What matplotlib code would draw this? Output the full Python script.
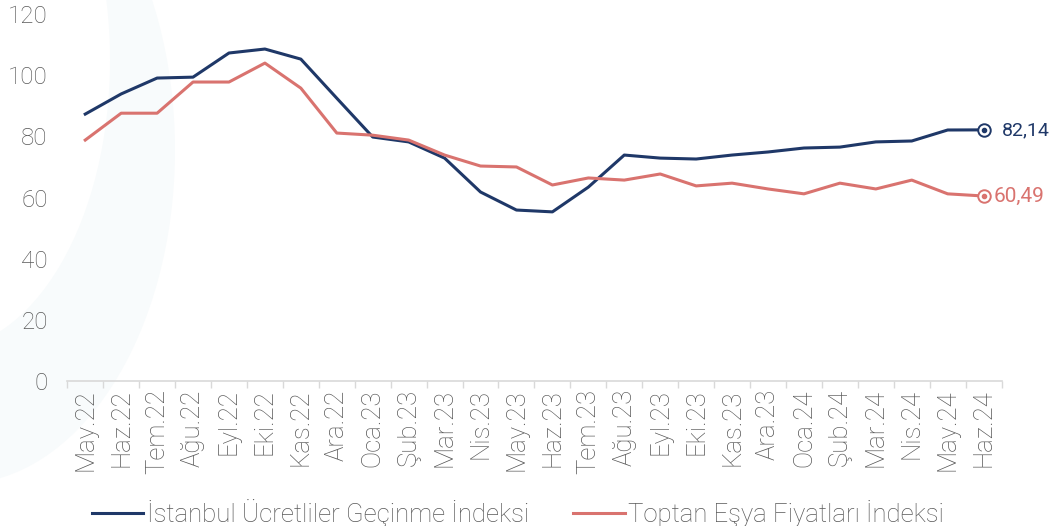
import matplotlib
matplotlib.use("Agg")
import matplotlib.pyplot as plt
from matplotlib.patches import Ellipse
import numpy as np

months = ["May.22", "Haz.22", "Tem.22", "Ağu.22", "Eyl.22", "Eki.22", "Kas.22",
          "Ara.22", "Oca.23", "Şub.23", "Mar.23", "Nis.23", "May.23", "Haz.23",
          "Tem.23", "Ağu.23", "Eyl.23", "Eki.23", "Kas.23", "Ara.23", "Oca.24",
          "Şub.24", "Mar.24", "Nis.24", "May.24", "Haz.24"]

istanbul = [87.3, 93.9, 99.1, 99.4, 107.3, 108.6, 105.3, 92.5, 79.8, 78.2,
            72.9, 61.8, 55.9, 55.3, 63.4, 73.9, 72.9, 72.6, 73.9, 74.9,
            76.2, 76.5, 78.2, 78.5, 82.1, 82.14]
toptan = [78.8, 87.6, 87.6, 97.8, 97.8, 104.0, 95.8, 81.1, 80.4, 78.8,
          73.9, 70.3, 70.0, 64.1, 66.4, 65.7, 67.7, 63.8, 64.7, 62.8,
          61.2, 64.7, 62.8, 65.7, 61.2, 60.49]

labels = ["İstanbul Ücretliler Geçinme İndeksi", "Toptan Eşya Fiyatları İndeksi"]
navy = "#1F3868"
salmon = "#D9736F"
grey = "#595959"

plt.rcParams['font.family'] = ['Roboto', 'DejaVu Sans']
plt.rcParams['font.weight'] = 'light'

fig = plt.figure(figsize=(10.51, 5.26), dpi=100)
ax = fig.add_axes([0.064, 0.276, 0.889, 0.697])

# faint watermark crescent behind the chart
bg = fig.add_axes([0, 0, 1, 1], zorder=-1)
bg.set_xlim(0, 1051)
bg.set_ylim(526, 0)
bg.axis('off')
bg.add_patch(Ellipse((-40, 150), 430, 668, facecolor="#F8FBFC", edgecolor="none"))
bg.add_patch(Ellipse((-60, 60), 340, 580, facecolor="white", edgecolor="none"))
ax.patch.set_alpha(0)

x = np.arange(len(months))
ax.plot(x, istanbul, color=navy, lw=2.2, label=labels[0])
ax.plot(x, toptan, color=salmon, lw=2.2, label=labels[1])

# end markers and labels
for vals, c in [(istanbul, navy), (toptan, salmon)]:
    ax.plot(x[-1], vals[-1], 'o', ms=9, mfc='white', mec=c, mew=1.4, zorder=5)
    ax.plot(x[-1], vals[-1], 'o', ms=3, color=c, zorder=6)
ax.annotate("82,14", (x[-1], istanbul[-1]), xytext=(13, 0), textcoords='offset points',
            va='center', ha='left', color=navy, fontsize=14, fontweight='normal',
            annotation_clip=False)
ax.annotate("60,49", (x[-1], toptan[-1]), xytext=(7, 0), textcoords='offset points',
            va='center', ha='left', color=salmon, fontsize=15, fontweight='normal',
            annotation_clip=False)

ax.set_xlim(-0.5, len(months) - 0.5)
ax.set_ylim(0, 120)
ax.set_yticks(range(0, 121, 20))
ax.set_xticks(x)
ax.set_xticklabels(months, rotation=90)
ax.set_xticks(np.arange(-0.5, len(months), 1), minor=True)
ax.tick_params(axis='x', which='major', length=0, pad=6, labelsize=18.5, labelcolor=grey)
ax.tick_params(axis='x', which='minor', length=5, color="#D9D9D9", width=1)
ax.tick_params(axis='y', length=0, pad=14, labelsize=17.5, labelcolor=grey)

for s in ['top', 'right', 'left']:
    ax.spines[s].set_visible(False)
ax.spines['bottom'].set_color("#D9D9D9")
ax.spines['bottom'].set_linewidth(1.2)

leg = fig.legend(loc='lower center', bbox_to_anchor=(0.493, -0.045), ncol=2, frameon=False,
                 fontsize=18.5, handlelength=2.0, handletextpad=0.15, columnspacing=1.7)
for t in leg.get_texts():
    t.set_color(grey)

fig.savefig("out.png", dpi=100)
